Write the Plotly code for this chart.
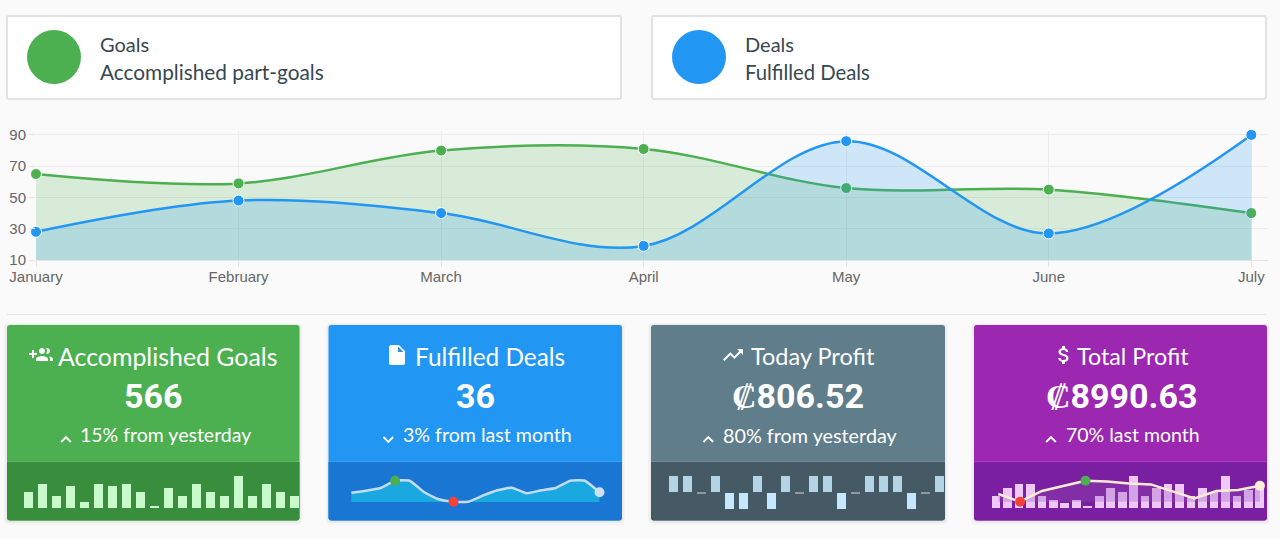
import base64
import plotly.graph_objects as go

W, H = 1280, 539

months = ["January", "February", "March", "April", "May", "June", "July"]
goals = [65, 59, 80, 81, 56, 55, 40]
deals = [28, 48, 40, 19, 86, 27, 90]
y_ticks = [10, 30, 50, 70, 90]

goals_bars = [4, 6, 3, 5.4, 1.5, 6, 5.4, 6, 4, 0.3, 5, 3, 6, 4, 3, 8, 3, 6, 4, 3]
deals_line = [9.3, 11.3, 14, 21.3, 21.3, 9.7, 2.7, 0.3, 0.3, 6.3, 11.7, 14.3, 8.7, 11.7, 14, 21.3, 21.3, 9.7]
today_tristate = [1, 1, 0, 1, -1, -1, 1, -1, 1, 0, 1, 1, -1, 0, 1, 1, 1, -1, 0, 1]
total_bars = [3, 5, 6, 6, 3, 2, 1.2, 2, 0.3, 3, 5, 4, 8, 3, 5, 6, 6, 3, 5, 4, 8, 3, 4.5, 6]
total_line = [7.7, 0, 10.7, 15.7, 21, 20.3, 18.3, 17.3, 10.3, 3.3, 10.7, 11.7, 16]

# x0, x1, light colour, dark colour
cards = [
    (7, 299.5, "#4CAF50", "#388E3C"),
    (328.5, 622, "#2196F3", "#1976D2"),
    (651, 945, "#607D8B", "#455A64"),
    (974, 1267, "#9C27B0", "#7B1FA2"),
]

ICONS = {
    "group": "M8 10H5V7H3v3H0v2h3v3h2v-3h3v-2zm10 1c1.66 0 2.99-1.34 2.99-3S19.66 5 18 5c-.32 0-.63.05-.91.14.57.81.9 1.79.9 2.86s-.34 2.04-.9 2.86c.28.09.59.14.91.14zm-5 0c1.66 0 2.99-1.34 2.99-3S14.66 5 13 5c-1.66 0-3 1.34-3 3s1.34 3 3 3zm6.62 2.16c.83.73 1.38 1.66 1.38 2.84v2h3v-2c0-1.54-2.37-2.49-4.38-2.84zM13 13c-2 0-6 1-6 3v2h12v-2c0-2-4-3-6-3z",
    "file": "M6 2c-1.1 0-1.99.9-1.99 2L4 20c0 1.1.89 2 1.99 2H18c1.1 0 2-.9 2-2V8l-6-6H6zm7 7V3.5L18.5 9H13z",
    "trend": "M16 6l2.29 2.29-4.88 4.88-4-4L2 16.59 3.41 18l6-6 4 4 6.3-6.29L22 12V6z",
    "money": "M11.8 10.9c-2.27-.59-3-1.2-3-2.15 0-1.09 1.01-1.85 2.7-1.85 1.78 0 2.44.85 2.5 2.1h2.21c-.07-1.72-1.12-3.3-3.21-3.81V3h-3v2.16c-1.94.42-3.5 1.68-3.5 3.61 0 2.31 1.91 3.46 4.7 4.13 2.5.6 3 1.48 3 2.41 0 .69-.49 1.79-2.7 1.79-2.06 0-2.87-.92-2.98-2.1h-2.2c.12 2.19 1.76 3.42 3.68 3.83V21h3v-2.15c1.95-.37 3.5-1.5 3.5-3.55 0-2.84-2.43-3.81-4.7-4.4z",
    "up": "M7.41 15.41L12 10.83l4.59 4.58L18 14l-6-6-6 6z",
    "down": "M7.41 8.59L12 13.17l4.59-4.58L18 10l-6 6-6-6 1.41-1.41z",
}


def px(x):
    return x / W


def py(y):
    return 1 - y / H


def rounded(x0, y0, x1, y1, r, top=True, bottom=True):
    rt = r if top else 0
    rb = r if bottom else 0
    X0, X1 = px(x0), px(x1)
    Y0, Y1 = py(y0), py(y1)
    return (
        f"M{px(x0 + rt)},{Y0} L{px(x1 - rt)},{Y0} Q{X1},{Y0} {X1},{py(y0 + rt)} "
        f"L{X1},{py(y1 - rb)} Q{X1},{Y1} {px(x1 - rb)},{Y1} "
        f"L{px(x0 + rb)},{Y1} Q{X0},{Y1} {X0},{py(y1 - rb)} "
        f"L{X0},{py(y0 + rt)} Q{X0},{Y0} {px(x0 + rt)},{Y0} Z"
    )


def shape_path(path, fill, line=None, width=0):
    return dict(type="path", xref="paper", yref="paper", path=path, fillcolor=fill,
                line=dict(color=line or fill, width=width), layer="below")


def icon(name, x, y, size=24, colour="#ffffff"):
    svg = (f'<svg xmlns="http://www.w3.org/2000/svg" viewBox="0 0 24 24" width="96" height="96">'
           f'<path fill="{colour}" d="{ICONS[name]}"/></svg>')
    src = "data:image/svg+xml;base64," + base64.b64encode(svg.encode()).decode()
    return dict(source=src, xref="paper", yref="paper", x=px(x), y=py(y), sizex=size / W, sizey=size / H,
                xanchor="left", yanchor="top", sizing="stretch", layer="above")


def label(text, x, y, size, colour="#ffffff", family="Lato", anchor="left"):
    return dict(text=text, x=px(x), y=py(y), xref="paper", yref="paper", showarrow=False,
                xanchor=anchor, yanchor="middle", font=dict(family=family, size=size, color=colour))


def spark_axes(n, left, right, first, step, top, bottom, base, scale):
    # pixel box -> axis ranges, so that values stay in their own units
    return {
        f"xaxis{n}": dict(domain=[px(left), px(right)], range=[(left - first) / step, (right - first) / step],
                          visible=False, fixedrange=True, anchor=f"y{n}", automargin=False),
        f"yaxis{n}": dict(domain=[py(bottom), py(top)], range=[(base - bottom) / scale, (base - top) / scale],
                          visible=False, fixedrange=True, anchor=f"x{n}", automargin=False),
    }


fig = go.Figure()

# main chart
fig.add_trace(go.Scatter(x=months, y=goals, mode="lines+markers", fill="tozeroy", fillcolor="rgba(76,175,80,0.2)",
                         line=dict(color="#4CAF50", width=2.5, shape="spline", smoothing=1),
                         marker=dict(size=11, color="#4CAF50", line=dict(color="#ffffff", width=1)),
                         cliponaxis=False, showlegend=False))
fig.add_trace(go.Scatter(x=months, y=deals, mode="lines+markers", fill="tozeroy", fillcolor="rgba(33,150,243,0.2)",
                         line=dict(color="#2196F3", width=2.5, shape="spline", smoothing=1),
                         marker=dict(size=11, color="#2196F3", line=dict(color="#ffffff", width=1)),
                         cliponaxis=False, showlegend=False))

# goals sparkline
fig.add_trace(go.Bar(x=list(range(len(goals_bars))), y=goals_bars, width=9 / 14, marker=dict(color="#C8FACC", line_width=0),
                     xaxis="x2", yaxis="y2", showlegend=False))

# deals sparkline
idx = list(range(len(deals_line)))
fig.add_trace(go.Scatter(x=idx, y=deals_line, mode="lines", fill="tozeroy", fillcolor="#19A9E0",
                         line=dict(color="#C5DCF5", width=2.5, shape="spline", smoothing=0.4),
                         xaxis="x3", yaxis="y3", showlegend=False))
for i, c in [(3, "#4CAF50"), (7, "#F44336"), (len(deals_line) - 1, "#CFE0F5")]:
    fig.add_trace(go.Scatter(x=[i], y=[deals_line[i]], mode="markers", marker=dict(size=10, color=c),
                             xaxis="x3", yaxis="y3", cliponaxis=False, showlegend=False))

# today profit tristate
tri_colours = {1: "#B3D4E5", -1: "#C5E8FC", 0: "#8D9A9F"}
tri_y = [v if v else -0.14 for v in today_tristate]
tri_base = [-0.06 if v < 0 else 0 for v in today_tristate]
fig.add_trace(go.Bar(x=list(range(len(tri_y))), y=tri_y, base=tri_base, width=9 / 14,
                     marker=dict(color=[tri_colours[v] for v in today_tristate], line_width=0),
                     xaxis="x4", yaxis="y4", showlegend=False))

# total profit composite
fig.add_trace(go.Bar(x=list(range(len(total_bars))), y=total_bars, width=8.7 / 11.47, marker=dict(color="#EFC8FB", line_width=0),
                     xaxis="x5", yaxis="y5", showlegend=False))
idx = list(range(len(total_line)))
fig.add_trace(go.Scatter(x=idx, y=total_line, mode="lines", fill="tozeroy", fillcolor="rgba(150,80,180,0.3)",
                         line=dict(color="#F9ECD0", width=2.5), xaxis="x6", yaxis="y6", showlegend=False))
for i, c in [(1, "#F44336"), (4, "#4CAF50"), (len(total_line) - 1, "#FAF0D8")]:
    fig.add_trace(go.Scatter(x=[i], y=[total_line[i]], mode="markers", marker=dict(size=10, color=c),
                             xaxis="x6", yaxis="y6", cliponaxis=False, showlegend=False))

shapes = []
for x0, x1 in [(7, 621), (652, 1266)]:
    shapes.append(shape_path(rounded(x0, 16, x1, 99, 2), "#ffffff", "#E2E2E2", 2))
    cx = x0 + 47
    shapes.append(dict(type="circle", xref="paper", yref="paper", x0=px(cx - 27), x1=px(cx + 27),
                       y0=py(84), y1=py(30), layer="below", line_width=0,
                       fillcolor="#4CAF50" if x0 == 7 else "#2196F3"))
shapes.append(dict(type="line", xref="paper", yref="paper", x0=px(7), x1=px(1266), y0=py(314.5), y1=py(314.5),
                   line=dict(color="#E6E6E6", width=1), layer="below"))
for x0, x1, light, dark in cards:
    shapes.append(shape_path(rounded(x0 - 3, 323, x1 + 3, 525, 5), "rgba(0,0,0,0.025)"))
    shapes.append(shape_path(rounded(x0 - 1.5, 324, x1 + 1.5, 523, 4), "rgba(0,0,0,0.04)"))
    shapes.append(shape_path(rounded(x0, 325, x1, 520.5, 3), light))
    shapes.append(shape_path(rounded(x0, 462, x1, 520.5, 3, top=False), dark))
    shapes.append(dict(type="line", xref="paper", yref="paper", x0=px(x0), x1=px(x1), y0=py(461.7), y1=py(461.7),
                       line=dict(color="rgba(255,255,255,0.12)", width=1), layer="below"))

annotations = [
    label("Goals", 98, 44, 20, "#37474F"),
    label("Accomplished part-goals", 98, 71.5, 20.8, "#37474F"),
    label("Deals", 743, 44, 20, "#37474F"),
    label("Fulfilled Deals", 743, 71.5, 20.3, "#37474F"),
    label("Accomplished Goals", 56, 356, 24.9),
    label("<b>566</b>", 153, 396, 34, family="Roboto", anchor="center"),
    label("15% from yesterday", 78, 434.5, 19.5),
    label("Fulfilled Deals", 413, 356, 24.4),
    label("<b>36</b>", 475.5, 396, 34, family="Roboto", anchor="center"),
    label("3% from last month", 401, 434.5, 19.6),
    label("Today Profit", 749, 356, 23.5),
    label("<b>₡806.52</b>", 798, 396, 34, family="Roboto", anchor="center"),
    label("80% from yesterday", 721, 434.5, 19.8),
    label("Total Profit", 1075, 356, 23.3),
    label("<b>₡8990.63</b>", 1121, 396, 34, family="Roboto", anchor="center"),
    label("70% last month", 1064, 434.5, 19.5),
]

images = [
    icon("group", 29, 343), icon("file", 385, 343), icon("trend", 721, 343), icon("money", 1052, 343),
    icon("up", 55, 428.5, 22), icon("down", 377.3, 428.5, 22), icon("up", 697.3, 428.5, 22), icon("up", 1040, 428.5, 22),
]

fig.update_layout(
    width=W, height=H, margin=dict(l=0, r=0, t=0, b=0, autoexpand=False),
    paper_bgcolor="#FAFAFA", plot_bgcolor="rgba(0,0,0,0)",
    bargap=0, barmode="overlay", hovermode=False,
    shapes=shapes, annotations=annotations, images=images,
    xaxis=dict(domain=[px(36), px(1267.5)], type="category", range=[0, 6.08], fixedrange=True, automargin=False,
               showgrid=True, gridcolor="#ECECEC", gridwidth=1, ticks="outside", ticklen=6, tickcolor="#E4E4E4",
               showline=True, linecolor="#E4E4E4", linewidth=1, zeroline=False, ticklabelstandoff=-3,
               tickfont=dict(family="Liberation Sans", size=15, color="#666666")),
    yaxis=dict(domain=[py(260), py(131)], range=[10, 92.5], tickvals=y_ticks, fixedrange=True, automargin=False,
               showgrid=True, gridcolor="#ECECEC", gridwidth=1, ticks="outside", ticklen=6, tickcolor="#E4E4E4",
               showline=False, zeroline=False,
               tickfont=dict(family="Liberation Sans", size=15, color="#666666")),
)
fig.update_layout(**spark_axes(2, 7, 299.5, 28.7, 14, 465, 515, 507.7, 4))
fig.update_layout(**spark_axes(3, 328.5, 622, 351.3, 14.6, 465, 515, 502, 1))
fig.update_layout(**spark_axes(4, 651, 945, 673.3, 14, 465, 515, 491.8, 16))
fig.update_layout(**spark_axes(5, 974, 1267, 996, 11.47, 465, 515, 507.7, 4))
fig.update_layout(**spark_axes(6, 974, 1267, 998.3, 21.8, 465, 515, 501.7, 1))

fig.write_html("out.html", config=dict(displayModeBar=False),
               post_script="document.body.style.margin='0';document.body.style.overflow='hidden';")
